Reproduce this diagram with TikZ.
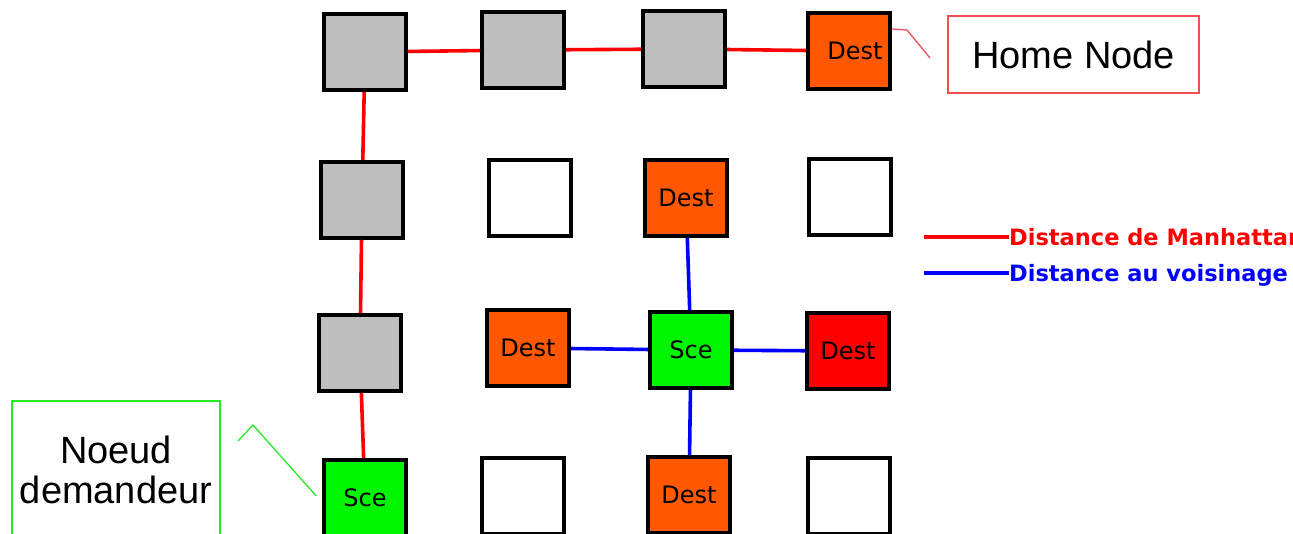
\documentclass[tikz,border=0pt]{standalone}
\usepackage{fontspec}
\setmainfont{Liberation Sans}
\newfontfamily\gridfont{DejaVu Sans}
\usetikzlibrary{calc}

\definecolor{destorange}{RGB}{255,88,0}
\definecolor{destred}{RGB}{255,0,0}
\definecolor{scegreen}{RGB}{0,245,0}
\definecolor{cellgray}{RGB}{190,190,190}
\definecolor{homered}{RGB}{240,80,80}
\definecolor{askgreen}{RGB}{40,235,40}
\definecolor{manred}{RGB}{255,0,0}
\definecolor{voisblue}{RGB}{0,0,255}

\tikzset{
  cell/.style={draw=black, line width=3.6pt, minimum width=82pt, minimum height=76pt,
    inner sep=0pt, font=\gridfont\fontsize{24}{28}\selectfont},
  grey/.style={cell, fill=cellgray},
  empty/.style={cell, fill=white},
  dest/.style={cell, fill=destorange},
  destr/.style={cell, fill=destred},
  sce/.style={cell, fill=scegreen},
  manh/.style={draw=manred, line width=3.6pt},
  vois/.style={draw=voisblue, line width=3.6pt},
  callout/.style={line width=1.3pt, font=\fontsize{38}{42}\selectfont, align=center, inner sep=0pt},
  legendtxt/.style={anchor=west, inner sep=0pt, font=\gridfont\bfseries\fontsize{22.5}{26}\selectfont}
}

\begin{document}
\begin{tikzpicture}[x=1pt, y=-1pt]
\useasboundingbox (0,0) rectangle (1293,534);

% 4 x 4 grid of cells
\node[grey]  (n00) at (365,52)  {};
\node[grey]  (n01) at (523,50)  {};
\node[grey]  (n02) at (684,49)  {};
\node[dest]  (n03) at (849,51)  {\hspace{12pt}Dest};

\node[grey]  (n10) at (362,200) {};
\node[empty] (n11) at (530,198) {};
\node[dest]  (n12) at (686,198) {Dest};
\node[empty] (n13) at (850,197) {};

\node[grey]  (n20) at (360,353) {};
\node[dest]  (n21) at (528,348) {Dest};
\node[sce]   (n22) at (691,350) {Sce};
\node[destr] (n23) at (848,351) {Dest};

\node[sce]   (n30) at (365,498) {Sce};
\node[empty] (n31) at (523,496) {};
\node[dest]  (n32) at (689,495) {Dest};
\node[empty] (n33) at (849,496) {};

% Manhattan path from the requester to the home node
\draw[manh] (n30) -- (n20);
\draw[manh] (n20) -- (n10);
\draw[manh] (n10) -- (n00);
\draw[manh] (n00) -- (n01);
\draw[manh] (n01) -- (n02);
\draw[manh] (n02) -- (n03);

% neighbourhood links around the source
\draw[vois] (n22) -- (n12);
\draw[vois] (n22) -- (n21);
\draw[vois] (n22) -- (n23);
\draw[vois] (n22) -- (n32);

% callout boxes
\node[callout, draw=homered, minimum width=251pt, minimum height=77pt] (home) at (1073.5,54.5) {Home Node};
\node[callout, draw=askgreen, minimum width=208pt, minimum height=138pt] (ask) at (116,470) {Noeud\\[-2pt]demandeur};

% callout leaders
\coordinate (hk) at (907,30);
\coordinate (hend) at (930,58);
\draw[homered, line width=1.3pt] ([yshift=22pt]n03.east) -- (hk) -- (hend);
\coordinate (gend) at (238,441);
\coordinate (gk) at (253,425);
\draw[askgreen, line width=1.3pt] (gend) -- (gk) -- ([xshift=-6pt,yshift=2pt]n30.west);

% legend
\node[legendtxt, text=manred] (lm) at (1009,237) {Distance de Manhattan};
\node[legendtxt, text=voisblue] (lv) at (1009,275) {Distance au voisinage};
\coordinate (lms) at (924,237);
\coordinate (lvs) at (924,273);
\draw[manh] (lms) -- (lms -| lm.west);
\draw[vois] (lvs) -- (lvs -| lv.west);
\end{tikzpicture}
\end{document}
